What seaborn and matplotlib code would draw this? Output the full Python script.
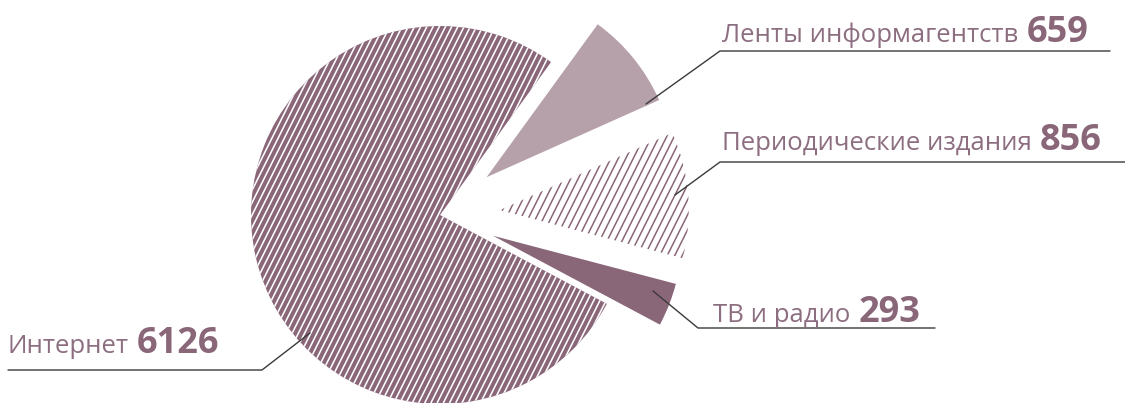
import numpy as np
import matplotlib.pyplot as plt
from matplotlib.collections import LineCollection
import seaborn as sns

# data
labels = ['Ленты информагентств', 'Периодические издания', 'ТВ и радио', 'Интернет']
values = [659, 856, 293, 6126]
explode = [60, 60, 57, 0]

# label text positions (px, from top-left) and leader lines
label_pos = [(722, 42), (722, 150), (713, 322), (8, 353)]
leaders = [
    [(646, 104), (720, 51), (1110, 51)],
    [(675, 195), (720, 162), (1125, 162)],
    [(653, 291), (698, 328), (935, 328)],
    [(310, 333), (262, 370), (8, 370)],
]

mauve = '#8a6679'
light = '#b6a0aa'
txt = '#8c6e80'

sns.set_theme(style='white')
plt.rcParams['font.family'] = ['Open Sans', 'DejaVu Sans']

W, H = 1125, 403
fig = plt.figure(figsize=(W / 100, H / 100), dpi=100)
ax = fig.add_axes([0, 0, 1, 1])

wedges, _ = ax.pie(values, explode=explode, startangle=54, counterclock=False,
                   radius=189, center=(440, H - 215), frame=True)
ax.set_xlim(0, W)
ax.set_ylim(0, H)
ax.axis('off')

face = [light, 'white', mauve, mauve]
for w, fc in zip(wedges, face):
    w.set_facecolor(fc)
    w.set_linewidth(0)


def stripes(wedge, step, color, lw):
    # steep diagonal stripes clipped to a wedge
    segs = [[(c, 0), (c + H / 2, H)] for c in np.arange(-H / 2, W, step)]
    lc = LineCollection(segs, colors=color, linewidths=lw)
    ax.add_collection(lc)
    lc.set_clip_path(wedge)


stripes(wedges[3], 6.2, 'white', 1.15)
stripes(wedges[1], 7.5, mauve, 1.1)

for pts in leaders:
    xs = [p[0] for p in pts]
    ys = [H - p[1] for p in pts]
    ax.plot(xs, ys, color='#3a3a3a', lw=1)

r = fig.canvas.get_renderer()
for lab, val, (x, y) in zip(labels, values, label_pos):
    t = ax.text(x, H - y, lab, fontsize=18.5, color=txt, va='baseline', ha='left')
    bb = t.get_window_extent(renderer=r)
    ax.text(bb.x1 + 8, H - y, str(val), fontsize=26, fontweight='bold',
            color=mauve, va='baseline', ha='left')

fig.savefig('out.png', dpi=100)
